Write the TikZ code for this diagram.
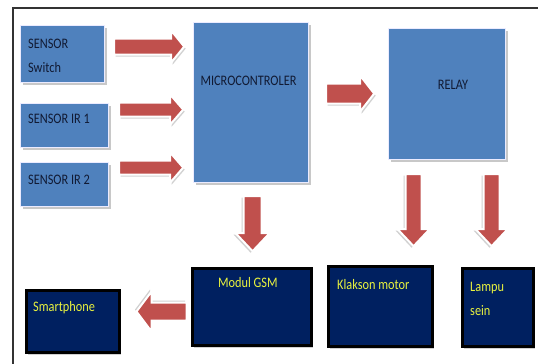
\documentclass[tikz,border=0pt]{standalone}
\usepackage{fontspec}
\setmainfont{Carlito}
\usetikzlibrary{calc,shadows}
\definecolor{boxblue}{HTML}{4F81BD}
\definecolor{boxnavy}{HTML}{002060}
\definecolor{arrowred}{HTML}{C0504D}
\definecolor{labelyellow}{HTML}{E9F23E}
\definecolor{bluetext}{HTML}{111A33}
\tikzset{
  bluebox/.style={rectangle, fill=boxblue, draw=white!92!blue, line width=1.2pt,
    anchor=north west, inner sep=0pt,
    drop shadow={shadow xshift=2pt, shadow yshift=-2.5pt, fill=black!30, opacity=.7}},
  navybox/.style={rectangle, fill=boxnavy, draw=black, line width=3pt,
    anchor=north west, inner sep=0pt,
    drop shadow={shadow xshift=2pt, shadow yshift=-2.5pt, fill=black!25, opacity=.7}},
  boxtext/.style={inner sep=0pt, font=\fontsize{12.3}{14}\selectfont, yscale=1.18, transform shape},
  bluelabel/.style={boxtext, text=bluetext},
  navylabel/.style={boxtext, text=labelyellow},
  arrshadow/.style={fill=black!18},
  arrbody/.style={fill=arrowred, draw=white, line width=2pt, line join=miter},
  % block arrow: #1 length, #2 shaft half width, #3 head half width, #4 head length
  pics/barrow/.style n args={4}{code={
    \begin{scope}[xshift=1.5pt, yshift=-2pt]
      \fill[arrshadow] (0,-#2) -- ({#1-#4},-#2) -- ({#1-#4},-#3) -- (#1,0)
        -- ({#1-#4},#3) -- ({#1-#4},#2) -- (0,#2) -- cycle;
    \end{scope}
    \filldraw[arrbody] (0,-#2) -- ({#1-#4},-#2) -- ({#1-#4},-#3) -- (#1,0)
      -- ({#1-#4},#3) -- ({#1-#4},#2) -- (0,#2) -- cycle;
  }}
}
\begin{document}
\begin{tikzpicture}[x=1pt, y=-1pt]
  \useasboundingbox (0,0) rectangle (538,364);
  \fill[white] (0,0) rectangle (538,364);

  % outer frame (top and left edges)
  \draw[line width=2pt, black!80] (13,364) -- (13,8) -- (538,8);

  % input blocks
  \node[bluebox, minimum width=84pt, minimum height=57pt] (sw) at (20,25) {};
  \node[bluebox, minimum width=88pt, minimum height=44pt] (ir1) at (20,103) {};
  \node[bluebox, minimum width=88pt, minimum height=44pt] (ir2) at (20,162) {};
  \node[bluebox, minimum width=115pt, minimum height=160pt] (mc) at (193,22) {};
  \node[bluebox, minimum width=117pt, minimum height=131pt] (rl) at (388,28) {};

  % output blocks
  \node[navybox, minimum width=119pt, minimum height=77pt] (gsm) at (190.5,266.5) {};
  \node[navybox, minimum width=93pt, minimum height=62pt] (sp) at (24.5,288.5) {};
  \node[navybox, minimum width=104pt, minimum height=80pt] (kl) at (326.5,264.5) {};
  \node[navybox, minimum width=71pt, minimum height=78pt] (lp) at (460.5,266.5) {};

  % labels
  \node[bluelabel, anchor=west] (swa) at (28,44) {SENSOR};
  \node[bluelabel, anchor=west] (swb) at (28,68) {Switch};
  \node[bluelabel, anchor=west] (ir1t) at (28,119) {SENSOR IR 1};
  \node[bluelabel, anchor=west] (ir2t) at (28,180) {SENSOR IR 2};
  \node[bluelabel] (mct) at (248.5,81) {MICROCONTROLER};
  \node[bluelabel] (rlt) at (453,85) {RELAY};
  \node[navylabel, anchor=west] (gsmt) at (218,283) {Modul GSM};
  \node[navylabel, anchor=west] (spt) at (33,308) {Smartphone};
  \node[navylabel, anchor=west] (klt) at (337,285) {Klakson motor};
  \node[navylabel, anchor=west] (lpa) at (470,288) {Lampu};
  \node[navylabel, anchor=west] (lpb) at (470,311) {sein};

  % connectors
  \pic at ($(sw.east)+(9,-7.5)$) {barrow={70}{8}{16}{13}};
  \pic at ($(ir1.east)+(10,-16)$) {barrow={64}{7}{15}{13}};
  \pic at ($(ir2.east)+(10,-17)$) {barrow={64}{7}{15}{13}};
  \pic at ($(mc.east)+(17,-9)$) {barrow={48}{10}{18}{14}};
  \pic[rotate=-90] at ($(mc.south)+(1.5,13)$) {barrow={55}{9}{17}{18}};
  \pic[rotate=-90] at ($(rl.south)+(-33.5,14)$) {barrow={72}{8}{16}{17}};
  \pic[rotate=-90] at ($(rl.south)+(44.5,14)$) {barrow={72}{8}{16}{17}};
  \pic[rotate=180] at ($(gsm.west)+(-4,5)$) {barrow={50}{9}{20}{15}};
\end{tikzpicture}
\end{document}
